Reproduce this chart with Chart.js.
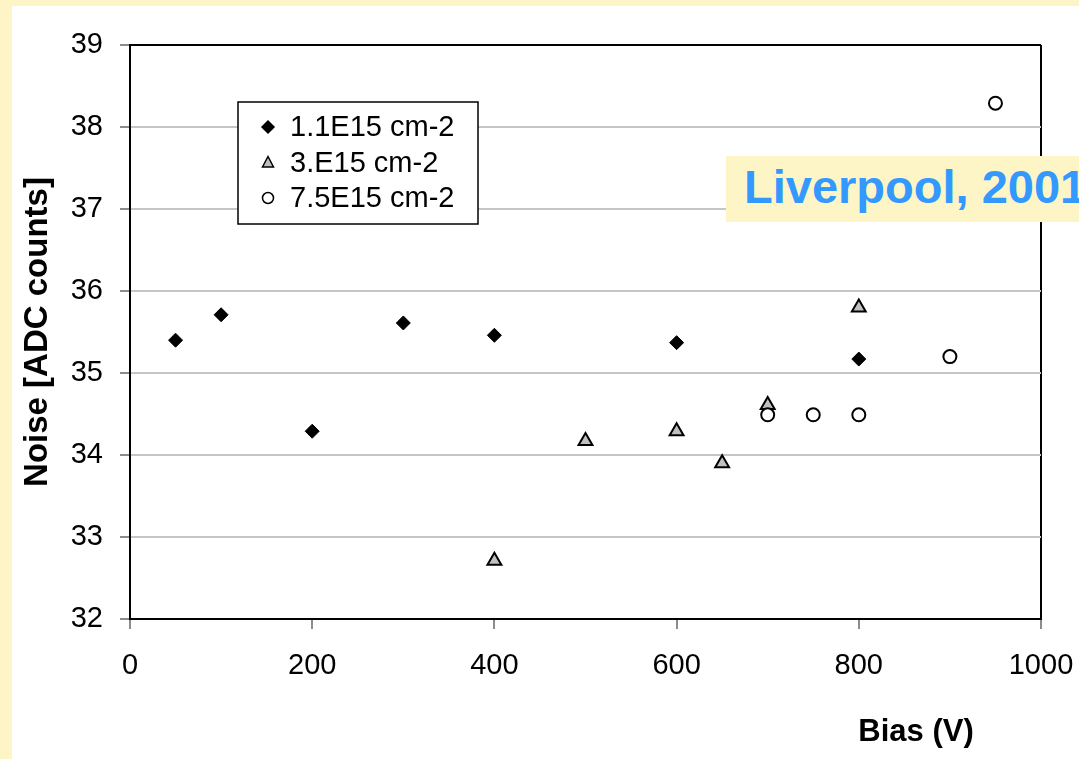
<!DOCTYPE html>
<html lang="en">
  <head>
    <meta charset="UTF-8" />
    <title>Noise vs Bias</title>
    <script src="https://cdn.jsdelivr.net/npm/chart.js"></script>
    <style>
      html, body { margin: 0; padding: 0; }
      body {
        width: 1079px;
        height: 759px;
        overflow: hidden;
        position: relative;
        background: #fdf5c5;
        font-family: "Liberation Sans", Arial, sans-serif;
      }
      #noiseChart {
        position: absolute;
        left: 12px;
        top: 6px;
        background: #ffffff;
      }
      #tag {
        position: absolute;
        left: 726px;
        top: 156px;
        width: 420px;
        height: 66px;
        line-height: 62px;
        padding-left: 18px;
        box-sizing: border-box;
        background: #fdf5c5;
        color: #3399ff;
        font-weight: bold;
        font-size: 47px;
        white-space: nowrap;
      }
    </style>
  </head>
  <body>
    <canvas id="noiseChart" width="1067" height="753"></canvas>
    <div id="tag">Liverpool, 2001</div>

    <script>
      // values
      const seriesLabels = ["1.1E15 cm-2", "3.E15 cm-2", "7.5E15 cm-2"];

      const bias1 = [50, 100, 200, 300, 400, 600, 800];
      const noise1 = [35.4, 35.71, 34.29, 35.61, 35.46, 35.37, 35.17];

      const bias2 = [400, 500, 600, 650, 700, 800];
      const noise2 = [32.71, 34.17, 34.29, 33.9, 34.61, 35.8];

      const bias3 = [700, 750, 800, 900, 950];
      const noise3 = [34.49, 34.49, 34.49, 35.2, 38.29];

      const toPoints = (xs, ys) => xs.map((x, i) => ({ x: x, y: ys[i] }));

      const FONT = "'Liberation Sans', Arial, sans-serif";

      // legend drawn inside the plot, like the original
      const boxLegend = {
        id: "boxLegend",
        afterDraw(chart) {
          const ctx = chart.ctx;
          const bx = 226, by = 96, bw = 240, bh = 122;
          ctx.save();
          ctx.fillStyle = "#ffffff";
          ctx.fillRect(bx, by, bw, bh);
          ctx.strokeStyle = "#000000";
          ctx.lineWidth = 1.5;
          ctx.strokeRect(bx, by, bw, bh);

          const rows = [121, 157, 192];
          const mx = 256;
          chart.data.datasets.forEach((ds, i) => {
            const y = rows[i];
            ctx.beginPath();
            if (ds.pointStyle === "rectRot") {
              ctx.moveTo(mx - 6, y);
              ctx.lineTo(mx, y - 6);
              ctx.lineTo(mx + 6, y);
              ctx.lineTo(mx, y + 6);
            } else if (ds.pointStyle === "triangle") {
              ctx.moveTo(mx, y - 6.5);
              ctx.lineTo(mx + 5.5, y + 4);
              ctx.lineTo(mx - 5.5, y + 4);
            } else {
              ctx.arc(mx, y, 5.5, 0, Math.PI * 2);
            }
            ctx.closePath();
            ctx.fillStyle = ds.backgroundColor;
            ctx.fill();
            ctx.lineWidth = 1.5;
            ctx.strokeStyle = "#000000";
            ctx.stroke();

            ctx.fillStyle = "#000000";
            ctx.font = "29px " + FONT;
            ctx.textBaseline = "middle";
            ctx.textAlign = "left";
            ctx.fillText(ds.label, 278, y + 1);
          });

          // x axis title sits towards the right in the original
          ctx.font = "bold 31px " + FONT;
          ctx.textAlign = "center";
          ctx.fillText("Bias (V)", 904, 726);
          ctx.restore();
        },
      };

      new Chart(document.getElementById("noiseChart"), {
        type: "scatter",
        data: {
          datasets: [
            {
              label: seriesLabels[0],
              data: toPoints(bias1, noise1),
              pointStyle: "rectRot",
              pointRadius: 7,
              backgroundColor: "#000000",
              borderColor: "#000000",
              borderWidth: 1,
              order: 3,
            },
            {
              label: seriesLabels[1],
              data: toPoints(bias2, noise2),
              pointStyle: "triangle",
              pointRadius: 8,
              backgroundColor: "#c0c0c0",
              borderColor: "#000000",
              borderWidth: 2,
              order: 2,
            },
            {
              label: seriesLabels[2],
              data: toPoints(bias3, noise3),
              pointStyle: "circle",
              pointRadius: 6.5,
              backgroundColor: "#ffffff",
              borderColor: "#000000",
              borderWidth: 2,
              order: 1,
            },
          ],
        },
        options: {
          responsive: false,
          animation: false,
          events: [],
          layout: { padding: { left: 0, top: 39, right: 38, bottom: 0 } },
          plugins: {
            legend: { display: false },
            tooltip: { enabled: false },
          },
          scales: {
            x: {
              type: "linear",
              min: 0,
              max: 1000,
              ticks: {
                stepSize: 200,
                color: "#000000",
                padding: 20,
                maxRotation: 0,
                callback: (v) => String(v),
                font: { family: FONT, size: 29 },
              },
              grid: {
                color: (c) => (c.tick && c.tick.value === 1000 ? "#000000" : "rgba(0,0,0,0)"),
                lineWidth: 2,
                tickColor: "#666666",
                tickLength: 10,
                tickWidth: 1.5,
              },
              border: { display: true, color: "#000000", width: 2 },
              afterFit: (scale) => {
                scale.height = 140;
                scale.paddingLeft = 0;
                scale.paddingRight = 0;
              },
            },
            y: {
              min: 32,
              max: 39,
              ticks: {
                stepSize: 1,
                color: "#000000",
                padding: 17,
                font: { family: FONT, size: 29 },
              },
              grid: {
                color: (c) => (c.tick && c.tick.value === 39 ? "#000000" : "#c6c6c6"),
                lineWidth: 2,
                tickColor: "#666666",
                tickLength: 10,
                tickWidth: 1.5,
              },
              border: { display: true, color: "#000000", width: 2 },
              title: {
                display: true,
                text: "Noise [ADC counts]",
                color: "#000000",
                padding: { top: 6, bottom: 0 },
                font: { family: FONT, size: 33, weight: "bold" },
              },
              afterFit: (scale) => {
                scale.width = 118;
                scale.paddingTop = 0;
                scale.paddingBottom = 0;
              },
            },
          },
        },
        plugins: [boxLegend],
      });
    </script>
  </body>
</html>
